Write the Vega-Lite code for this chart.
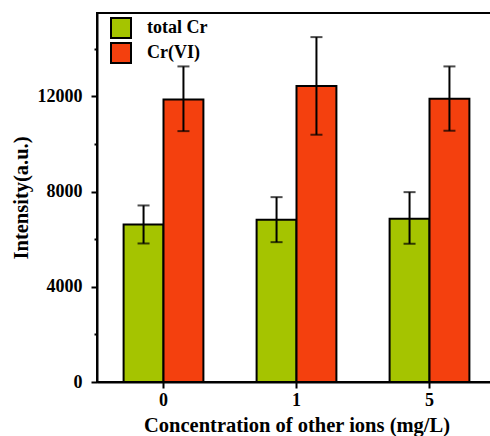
{
  "$schema": "https://vega.github.io/schema/vega-lite/v6.json",
  "autosize": {"type": "none"},
  "padding": {"left": 97, "top": 13, "right": 0, "bottom": 54},
  "width": 399,
  "height": 369,
  "background": "white",
  "config": {
    "view": {"stroke": "black", "strokeWidth": 2},
    "font": "Liberation Serif",
    "axis": {
      "domainColor": "black", "domainWidth": 2,
      "tickColor": "black", "tickWidth": 2,
      "labelFont": "Liberation Serif", "labelFontWeight": "bold", "labelFontSize": 18, "labelColor": "black",
      "titleFont": "Liberation Serif", "titleFontWeight": "bold", "titleFontSize": 20.5, "titleColor": "black",
      "grid": false
    }
  },
  "data": {
    "values": [
      {"conc": "0", "series": "total Cr", "value": 6618, "lo": 5819, "hi": 7416},
      {"conc": "0", "series": "Cr(VI)", "value": 11870, "lo": 10538, "hi": 13256},
      {"conc": "1", "series": "total Cr", "value": 6815, "lo": 5874, "hi": 7765},
      {"conc": "1", "series": "Cr(VI)", "value": 12429, "lo": 10387, "hi": 14487},
      {"conc": "5", "series": "total Cr", "value": 6857, "lo": 5807, "hi": 7975},
      {"conc": "5", "series": "Cr(VI)", "value": 11899, "lo": 10555, "hi": 13256}
    ]
  },
  "encoding": {
    "x": {
      "field": "conc", "type": "nominal", "sort": ["0", "1", "5"],
      "scale": {"paddingInner": 0.4, "paddingOuter": 0.2},
      "axis": {"title": "Concentration of other ions (mg/L)", "labelAngle": 0, "tickSize": 6, "labelPadding": 3, "titlePadding": 6}
    },
    "xOffset": {"field": "series", "type": "nominal", "sort": ["total Cr", "Cr(VI)"], "scale": {"paddingInner": 0, "paddingOuter": 0}}
  },
  "layer": [
    {
      "mark": {"type": "bar", "stroke": "black", "strokeWidth": 2},
      "encoding": {
        "y": {
          "field": "value", "type": "quantitative",
          "scale": {"domain": [0, 15500], "nice": false},
          "axis": {
            "title": "Intensity(a.u.)",
            "values": [0, 2000, 4000, 6000, 8000, 10000, 12000, 14000],
            "labelExpr": "datum.value % 4000 === 0 ? datum.label : ''",
            "format": "d",
            "tickSize": {"condition": {"test": "datum.value % 4000 === 0", "value": 6}, "value": 3},
            "labelPadding": 9,
            "titlePadding": 6
          }
        },
        "fill": {
          "field": "series", "type": "nominal",
          "sort": ["total Cr", "Cr(VI)"],
          "scale": {"domain": ["total Cr", "Cr(VI)"], "range": ["#A5C400", "#F4400E"]},
          "legend": {
            "title": null, "orient": "none", "legendX": 13, "legendY": 4,
            "symbolType": "square", "symbolSize": 400, "symbolStrokeColor": "black", "symbolStrokeWidth": 2,
            "labelFont": "Liberation Serif", "labelFontWeight": "bold", "labelFontSize": 18, "labelColor": "black",
            "labelOffset": 15, "rowPadding": -5
          }
        }
      }
    },
    {
      "mark": {"type": "rule", "color": "black", "strokeWidth": 2},
      "encoding": {"y": {"field": "lo", "type": "quantitative"}, "y2": {"field": "hi"}}
    },
    {
      "mark": {"type": "tick", "color": "black", "thickness": 2, "size": 12, "orient": "horizontal"},
      "encoding": {"y": {"field": "lo", "type": "quantitative"}}
    },
    {
      "mark": {"type": "tick", "color": "black", "thickness": 2, "size": 12, "orient": "horizontal"},
      "encoding": {"y": {"field": "hi", "type": "quantitative"}}
    }
  ]
}
